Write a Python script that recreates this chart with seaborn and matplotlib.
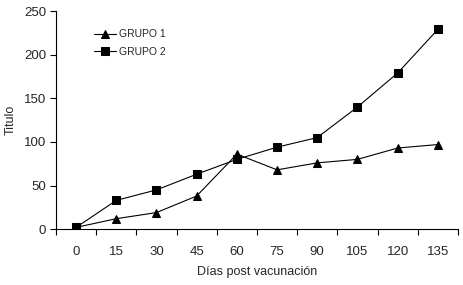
import seaborn as sns
import matplotlib.pyplot as plt
import pandas as pd

dias = ["0", "15", "30", "45", "60", "75", "90", "105", "120", "135"]
grupo_1 = [2, 12, 19, 38, 86, 68, 76, 80, 93, 97]
grupo_2 = [2, 33, 45, 63, 80, 94, 105, 140, 179, 229]
series_names = ["GRUPO 1", "GRUPO 2"]


def main():
    sns.set_theme(style="white")
    plt.rcParams["font.family"] = ["Liberation Sans", "DejaVu Sans"]

    n = len(dias)
    df = pd.DataFrame({
        "pos": list(range(n)) * 2,
        "valor": grupo_1 + grupo_2,
        "grupo": [series_names[0]] * n + [series_names[1]] * n,
    })

    fig = plt.figure(figsize=(4.63, 2.85), dpi=100)
    ax = fig.add_axes([0.121, 0.196, 0.868, 0.765])

    sns.lineplot(ax=ax, data=df, x="pos", y="valor", hue="grupo", style="grupo",
                 palette=["black", "black"], markers=["^", "s"], dashes=False,
                 linewidth=0.8, markersize=5.5, markeredgecolor="black")

    ax.set_xlim(-0.5, n - 0.5)
    ax.set_ylim(0, 250)
    ax.set_yticks(range(0, 251, 50))
    # category axis: ticks between categories, labels centred
    ax.set_xticks([i - 0.5 for i in range(n + 1)])
    ax.set_xticklabels([])
    ax.set_xticks(range(n), minor=True)
    ax.set_xticklabels(dias, minor=True)
    ax.tick_params(axis="x", which="major", length=4, width=0.8, color="black", direction="out", bottom=True)
    ax.tick_params(axis="x", which="minor", length=0, pad=12, labelsize=9.5)
    ax.tick_params(axis="y", length=4, width=0.8, color="black", direction="out", left=True, labelsize=9.5, pad=3)

    for s in ["top", "right"]:
        ax.spines[s].set_visible(False)
    for s in ["left", "bottom"]:
        ax.spines[s].set_color("black")
        ax.spines[s].set_linewidth(0.8)

    ax.set_xlabel("Días post vacunación", fontsize=9, labelpad=6)
    ax.set_ylabel("Titulo", fontsize=9, labelpad=5)

    ax.legend(loc="upper left", bbox_to_anchor=(0.07, 0.96), frameon=False,
              fontsize=7.5, handlelength=2.2, handletextpad=0.2, labelspacing=0.7)

    fig.savefig("out.png", dpi=100)


if __name__ == '__main__':
    main()
